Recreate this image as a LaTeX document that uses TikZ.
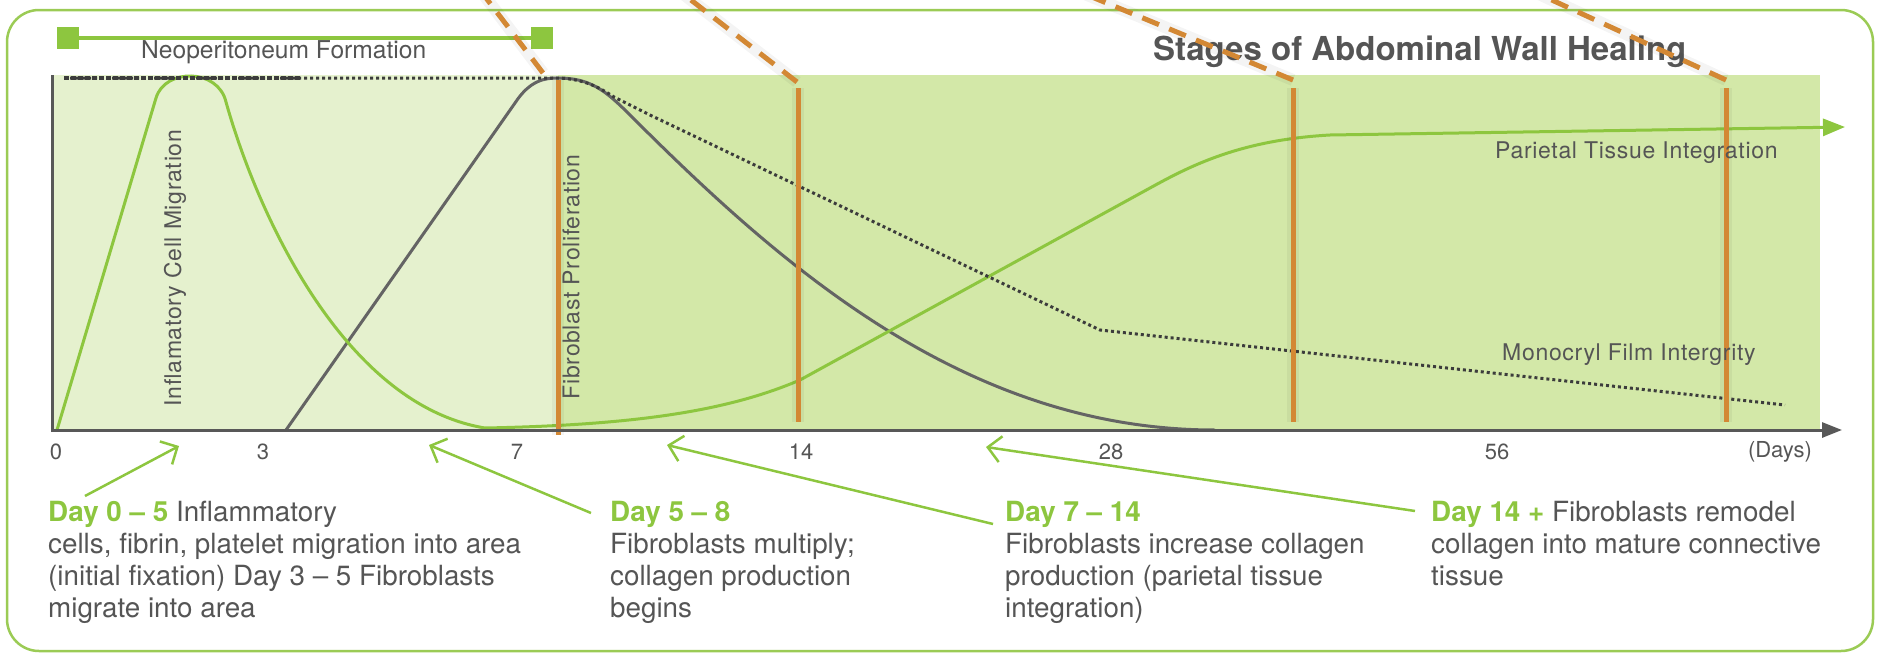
\documentclass[tikz,border=0pt]{standalone}
\usepackage{fontspec}
\setmainfont{TeX Gyre Heros}
\newfontfamily\plotfont{TeX Gyre Heros}[LetterSpace=3]
\usetikzlibrary{arrows.meta}

\definecolor{grn}{RGB}{141,198,63}
\definecolor{frame}{RGB}{155,203,85}
\definecolor{lightfill}{RGB}{229,241,206}
\definecolor{darkfill}{RGB}{211,232,168}
\definecolor{orng}{RGB}{211,136,52}
\definecolor{axisgray}{RGB}{88,88,88}
\definecolor{fibgray}{RGB}{100,100,100}
\definecolor{dotgray}{RGB}{60,60,60}
\definecolor{txtgray}{RGB}{85,85,85}

\begin{document}
\begin{tikzpicture}[x=1pt, y=-1pt,
		blurb/.style = {anchor=north west, inner sep=0pt, align=left, text=txtgray, font=\fontsize{27.8}{32}\selectfont},
		tick/.style = {inner sep=0pt, text=txtgray, font=\fontsize{22}{24}\selectfont},
		lbl/.style = {inner sep=0pt, text=txtgray, font=\plotfont\fontsize{23}{25}\selectfont},
		sq/.style = {fill=grn, minimum size=22pt, inner sep=0pt},
		pointer/.style = {grn, line width=2.5pt, -{Straight Barb[length=13pt, width=26pt]}},
		stage/.style = {orng, line width=5pt},
		lead/.style = {orng, line width=5pt, dash pattern=on 18pt off 11pt},
		glow/.style = {black, opacity=0.045, line width=12pt}]
	\useasboundingbox (0,0) rectangle (1879,653);
	\draw[frame, line width=2.5pt, rounded corners=32pt] (7,10) rectangle (1873,651);

	% plot area
	\fill[lightfill] (52,75) rectangle (558,430);
	\fill[darkfill] (558,75) rectangle (1820,430);

	% neoperitoneum bar
	\node[sq] (neoL) at (68,38) {};
	\node[sq] (neoR) at (542,38) {};
	\draw[grn, line width=3.5pt] (neoL) -- (neoR);
	\node[anchor=west, inner sep=0pt, text=txtgray, font=\fontsize{24.6}{26}\selectfont] (neo) at (141,52) {Neoperitoneum Formation};
	\node[anchor=base west, inner sep=0pt, text=txtgray, font=\bfseries\fontsize{33}{36}\selectfont] (title) at (1153,60) {Stages of Abdominal Wall Healing};

	% curves
	\draw[fibgray, line width=3pt] (286,430) -- (515,103) .. controls (530,80) and (545,78) .. (558,78)
		.. controls (590,78) and (605,90) .. (630,115) .. controls (780,265) and (965,430) .. (1215,430);
	\draw[grn, line width=3pt, -{Triangle[length=22pt, width=17pt]}] (57,430) -- (156,98)
		.. controls (165,68) and (218,68) .. (226,102) .. controls (258,216) and (345,405) .. (485,428)
		.. controls (640,425) and (730,410) .. (800,380) -- (1150,188)
		.. controls (1190,166) and (1240,140) .. (1330,135) -- (1845,127);
	\draw[dotgray, line width=3pt, dash pattern=on 3pt off 3pt] (64,78) -- (558,78)
		.. controls (585,79) and (600,88) .. (614,97) -- (650,115) -- (1100,330) -- (1785,405);
	\draw[dotgray, line width=4.5pt, dash pattern=on 5pt off 2pt] (64,78) -- (300,78);

	% stages
	\foreach \x/\top/\bot/\ex/\ey/\fx in {558/80/435/543/73/480, 798/88/422/797/82/678, 1293/88/422/1293/80/1075, 1726/88/422/1726/80/1530} {
		\draw[glow] (\ex,\ey) -- (\fx,-10);
		\draw[glow] (\x,\top) -- (\x,\bot);
		\draw[lead] (\ex,\ey) -- (\fx,-10);
		\draw[stage] (\x,\top) -- (\x,\bot);
	}

	% axes
	\draw[axisgray, line width=3pt, -{Triangle[length=20pt, width=15pt]}] (52,75) -- (52,430) -- (1842,430);
	\foreach \x/\t/\n in {56/0/t0, 263/3/t3, 517/7/t7, 801/14/t14, 1111/28/t28, 1497/56/t56, 1780/(Days)/tdays}
		\node[tick] (\n) at (\x,452) {\t};

	% plot labels
	\node[lbl, rotate=90] (infl) at (175,268) {Inflamatory Cell Migration};
	\node[lbl, rotate=90] (fibro) at (571,277) {Fibroblast Proliferation};
	\node[lbl, anchor=west] (pti) at (1495,153) {Parietal Tissue Integration};
	\node[lbl, anchor=west] (mfi) at (1502,355) {Monocryl Film Intergrity};

	% stage notes
	\node[blurb] (d0) at (48,501) {\textbf{\color{grn}Day 0 – 5} Inflammatory\\cells, fibrin, platelet migration into area\\(initial fixation) Day 3 – 5 Fibroblasts\\migrate into area};
	\node[blurb] (d5) at (610,501) {\textbf{\color{grn}Day 5 – 8}\\Fibroblasts multiply;\\collagen production\\begins};
	\node[blurb] (d7) at (1005,501) {\textbf{\color{grn}Day 7 – 14}\\Fibroblasts increase collagen\\production (parietal tissue\\integration)};
	\node[blurb] (d14) at (1431,501) {\textbf{\color{grn}Day 14 +} Fibroblasts remodel\\collagen into mature connective\\tissue};

	\coordinate (p0) at (179,446);
	\coordinate (p5) at (429,445);
	\coordinate (p7) at (667,445);
	\coordinate (p14) at (986,447);
	\draw[pointer] ([shift={(37,-5)}]d0.north west) -- (p0);
	\draw[pointer] ([shift={(-19,12)}]d5.north west) -- (p5);
	\draw[pointer] ([shift={(-12,23)}]d7.north west) -- (p7);
	\draw[pointer] ([shift={(-16,10)}]d14.north west) -- (p14);
\end{tikzpicture}
\end{document}
